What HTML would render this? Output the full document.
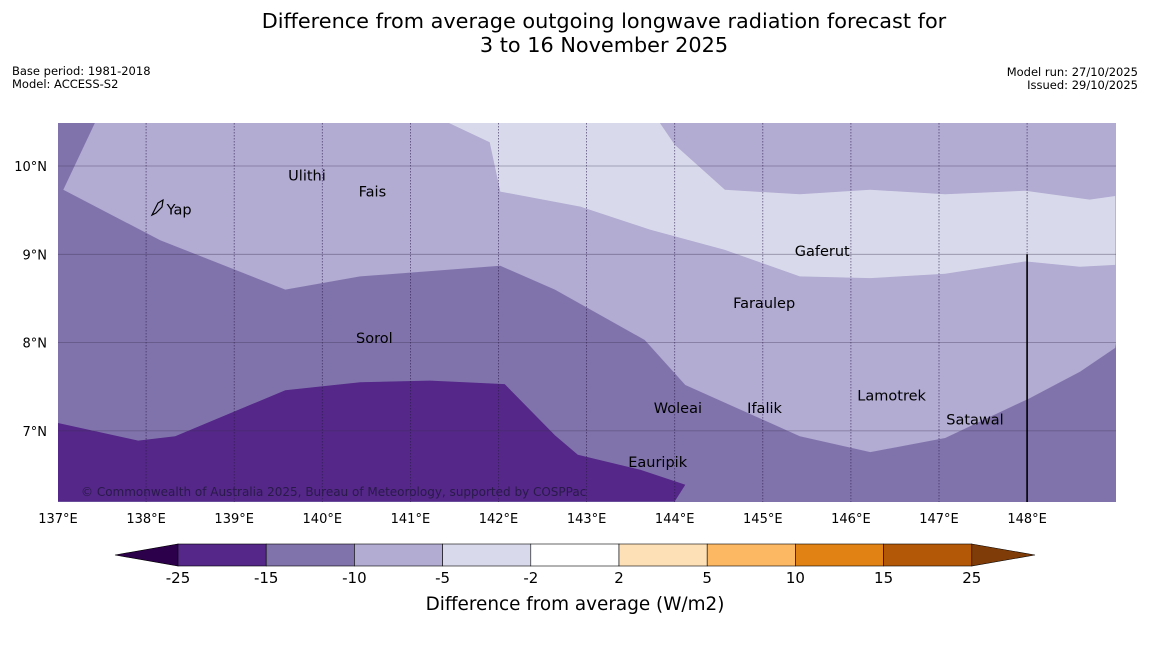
<!DOCTYPE html>
<html><head><meta charset="utf-8"><style>
body{margin:0;background:#fff;width:1150px;height:644px;overflow:hidden;font-family:"DejaVu Sans","Liberation Sans",sans-serif;}
</style></head><body>
<svg width="1150" height="644" xmlns="http://www.w3.org/2000/svg" font-family="DejaVu Sans, Liberation Sans, sans-serif">
<text x="604" y="28" text-anchor="middle" font-size="20.8">Difference from average outgoing longwave radiation forecast for</text>
<text x="604" y="52" text-anchor="middle" font-size="20.8">3 to 16 November 2025</text>
<text x="12" y="75" font-size="11.5">Base period: 1981-2018</text>
<text x="12" y="88" font-size="11.5">Model: ACCESS-S2</text>
<text x="1138" y="76" font-size="11.5" text-anchor="end">Model run: 27/10/2025</text>
<text x="1138" y="89" font-size="11.5" text-anchor="end">Issued: 29/10/2025</text>
<defs><clipPath id="mapclip"><rect x="58" y="123" width="1058" height="379"/></clipPath></defs>
<g id="map" clip-path="url(#mapclip)"></g>
<g id="axes"></g>
<g id="cbar"></g>
<text x="575" y="610" text-anchor="middle" font-size="18.4">Difference from average (W/m2)</text>
</svg>
<script>
const lonTicks=[137,138,139,140,141,142,143,144,145,146,147,148];
const latTicks=[7,8,9,10];
const lowerB=[[137.42,10.49],[137.06,9.73],[138.16,9.16],[139.58,8.60],[140.43,8.75],[142.02,8.87],[142.64,8.60],[143.66,8.03],[144.12,7.52],[145.42,6.94],[146.22,6.76],[147.07,6.92],[148.03,7.37],[148.60,7.67],[149.0,7.94]];
const lowerC=[[141.43,10.49],[141.90,10.27],[142.02,9.71],[142.93,9.54],[143.72,9.28],[144.57,9.05],[145.42,8.75],[146.22,8.73],[147.07,8.78],[147.98,8.92],[148.60,8.86],[149,8.88]];
const upperC=[[143.83,10.49],[144.0,10.24],[144.57,9.73],[145.42,9.68],[146.22,9.73],[147.07,9.68],[147.98,9.72],[148.71,9.62],[149,9.66]];
const darkEdge=[[137,7.09],[137.91,6.89],[138.33,6.94],[139.58,7.46],[140.43,7.55],[141.22,7.57],[142.07,7.53],[142.64,6.95],[142.90,6.73],[143.61,6.56],[144.12,6.39],[144.0,6.2]];
const places=[["Yap",138.21,9.51],["Ulithi",139.59,9.89],["Fais",140.39,9.71],["Gaferut",145.34,9.035],["Faraulep",144.64,8.45],["Sorol",140.36,8.05],["Woleai",143.74,7.26],["Ifalik",144.80,7.26],["Lamotrek",146.05,7.40],["Satawal",147.06,7.13],["Eauripik",143.45,6.645]];
const cbBounds=["-25","-15","-10","-5","-2","2","5","10","15","25"];
const cbColors=["#542788","#8073ac","#b2abd2","#d8daeb","#ffffff","#fee0b6","#fdb863","#e08214","#b35806"];
const X=l=>58+(l-137)*88.1, Y=a=>166-(a-10)*88.3;
const NS="http://www.w3.org/2000/svg";
function mk(p,t,at){const e=document.createElementNS(NS,t);for(const k in at)e.setAttribute(k,at[k]);p.appendChild(e);return e;}
const pts=a=>a.map(p=>X(p[0]).toFixed(1)+","+Y(p[1]).toFixed(1)).join(" ");
const map=document.getElementById('map');
let r=mk(map,'rect',{x:58,y:123,width:1058,height:379,fill:'#8073ac'});

let p=mk(map,'polygon',{points:pts(lowerB)+" "+X(149.5)+","+Y(11)+" "+X(137.42)+","+Y(11),fill:'#b2abd2'});

p=mk(map,'polygon',{points:pts(lowerC)+" "+pts(upperC.slice().reverse()),fill:'#d8daeb'});

p=mk(map,'polygon',{points:pts(darkEdge)+" "+X(137)+","+Y(6.2),fill:'#542788'});

lonTicks.forEach(l=>{if(l===137)return;const g=mk(map,'line',{x1:X(l),x2:X(l),y1:123,y2:502,stroke:'#2a1a4a','stroke-width':0.8,'stroke-dasharray':'1.5,1.5','stroke-opacity':0.7});
});
latTicks.forEach(a=>{const g=mk(map,'line',{x1:58,x2:1116,y1:Y(a),y2:Y(a),stroke:'#3a3050','stroke-width':0.8,'stroke-opacity':0.45});
});
let bl=mk(map,'line',{x1:X(148),x2:X(148),y1:Y(9),y2:502,stroke:'#000','stroke-width':1.6});

let yi=mk(map,'path',{d:'M152,215 L158,203 L163,200 L162,207 L156,213 Z',fill:'none',stroke:'#000','stroke-width':1.2});

places.forEach(q=>{const t=mk(map,'text',{x:X(q[1])+2,y:Y(q[2])+5,'font-size':14.5,fill:'#000'});t.textContent=q[0];
});
let ct=mk(map,'text',{x:81,y:496,'font-size':12,fill:'#2a1a4a'});ct.textContent="© Commonwealth of Australia 2025, Bureau of Meteorology, supported by COSPPac";

const ax=document.getElementById('axes');
lonTicks.forEach(l=>{const t=mk(ax,'text',{x:X(l),y:523,'font-size':13,'text-anchor':'middle'});t.textContent=l+"°E";
});
latTicks.forEach(a=>{const t=mk(ax,'text',{x:47,y:Y(a)+5,'font-size':13,'text-anchor':'end'});t.textContent=a+"°N";
});
const cb=document.getElementById('cbar');const cx0=178,cw=88.2,cy=544,ch=22;
let a1=mk(cb,'polygon',{points:`115,555 ${cx0},${cy} ${cx0},${cy+ch}`,fill:'#2d004b',stroke:'#000','stroke-width':0.6});

cbColors.forEach((c,i)=>{const b=mk(cb,'rect',{x:cx0+i*cw,y:cy,width:cw,height:ch,fill:c,stroke:'#000','stroke-width':0.6});
});
const ex=cx0+cbColors.length*cw;
let a2=mk(cb,'polygon',{points:`${ex},${cy} 1035,555 ${ex},${cy+ch}`,fill:'#7f3b08',stroke:'#000','stroke-width':0.6});

cbBounds.forEach((s,i)=>{const t=mk(cb,'text',{x:cx0+i*cw,y:583,'font-size':15,'text-anchor':'middle'});t.textContent=s;
});
</script>
</body></html>
